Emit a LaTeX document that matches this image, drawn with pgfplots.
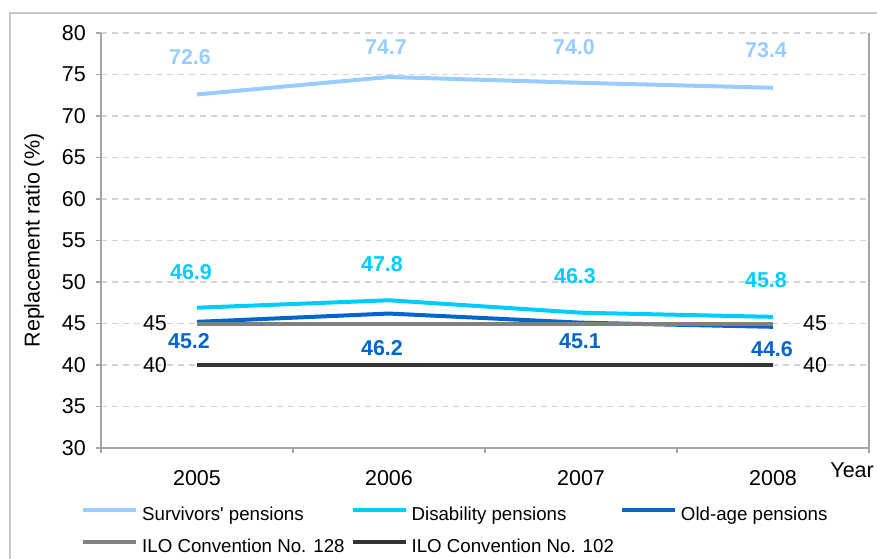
\documentclass[border=0pt]{standalone}
\usepackage{fontspec}
\setmainfont{Liberation Sans}
\usepackage{pgfplots}
\usepackage{pgfplotstable}
\pgfplotsset{compat=1.18}

\definecolor{surv}{RGB}{153,204,255}
\definecolor{disab}{RGB}{0,204,255}
\definecolor{oldage}{RGB}{0,102,204}
\definecolor{iloa}{RGB}{128,128,128}
\definecolor{ilob}{RGB}{51,51,51}
\definecolor{gridc}{RGB}{212,212,212}
\definecolor{axisc}{RGB}{165,165,165}
\definecolor{framec}{RGB}{200,200,200}

\newcommand{\mainfont}{\fontsize{21.5}{25}\selectfont}
\newcommand{\legfont}{\fontsize{18.7}{22}\selectfont}

% x y and label offsets (pt) from the point
\pgfplotstableread{
x y dx dy
0 72.6 -7 37
1 74.7 -3 30
2 74.0 -7 36
3 73.4 -7 38
}\survtab
\pgfplotstableread{
x y dx dy
0 46.9 -6 36
1 47.8 -7 36
2 46.3 -6 37
3 45.8 -7 37
}\disabtab
\pgfplotstableread{
x y dx dy
0 45.2 -8 -19
1 46.2 -7 -35
2 45.1 -1 -19
3 44.6 -1 -22
}\oldtab

\pgfplotsset{
  lbl/.style={
    point meta=y,
    visualization depends on={\thisrow{dx} \as \dx},
    visualization depends on={\thisrow{dy} \as \dy},
    nodes near coords={\pgfmathprintnumber[fixed,fixed zerofill,precision=1]{\pgfplotspointmeta}},
    every node near coord/.append style={font=\mainfont\bfseries, text=#1,
      anchor=center, inner sep=0pt, xshift=\dx pt, yshift=\dy pt},
  },
}

\begin{document}
\begin{tikzpicture}
\path[use as bounding box] (0,0) rectangle (877pt,558pt);
\draw[framec, line width=1.3pt] (10pt,-10pt) -- (10pt,545pt) -- (890pt,545pt);
\begin{axis}[
  at={(101pt,110pt)}, anchor=south west,
  scale only axis, width=768pt, height=415pt,
  xmin=-0.5, xmax=3.5, ymin=30, ymax=80,
  ytick={30,35,...,80},
  xtick={0,1,2,3}, xticklabels={2005,2006,2007,2008},
  minor xtick={-0.5,0.5,1.5,2.5,3.5},
  major x tick style={draw=none},
  axis x line*=bottom, axis y line*=left,
  axis line style={axisc, line width=1.3pt, -},
  every tick/.style={axisc, line width=1.3pt},
  tick align=outside, major tick length=5pt, minor tick length=5pt,
  ymajorgrids,
  grid style={gridc, line width=1.3pt, dash pattern=on 6pt off 5pt},
  /pgf/number format/assume math mode=true,
  tick label style={font=\mainfont, inner sep=0pt},
  yticklabel style={anchor=east, xshift=-10pt},
  xticklabel style={anchor=north, yshift=-17pt},
  ylabel={Replacement ratio (\%)},
  every axis y label/.style={at={(axis description cs:-0.0872,0.5)},
    rotate=90, anchor=center, font=\mainfont},
  clip=false,
  legend columns=3,
  legend cell align=left,
  legend style={at={(axis description cs:-0.0260,-0.142)}, anchor=north west,
    draw=none, fill=none, inner sep=0pt, font=\legfont,
    row sep=17pt,
    nodes={inner sep=0pt},
    /tikz/every odd column/.append style={column sep=4pt},
    /tikz/every even column/.append style={column sep=6pt}},
  legend image code/.code={\draw[#1] (0pt,5pt) -- (53pt,5pt);},
]
\addplot[surv, line width=4pt, line join=round, lbl=surv] table[x=x,y=y] {\survtab};
\addlegendentry{Survivors\textquotesingle{} pensions}
\addplot[disab, line width=4pt, line join=round, lbl=disab] table[x=x,y=y] {\disabtab};
\addlegendentry{Disability pensions}
\addplot[oldage, line width=4pt, line join=round, lbl=oldage] table[x=x,y=y] {\oldtab};
\addlegendentry{Old-age pensions}
\addplot[iloa, line width=4pt] coordinates {(0,45) (1,45) (2,45) (3,45)}
  node[pos=0, text=black, font=\mainfont, xshift=-42pt] {45}
  node[pos=1, text=black, font=\mainfont, xshift=42pt] {45};
\addlegendentry{ILO Convention No. 128}
\addplot[ilob, line width=4pt] coordinates {(0,40) (1,40) (2,40) (3,40)}
  node[pos=0, text=black, font=\mainfont, xshift=-42pt] {40}
  node[pos=1, text=black, font=\mainfont, xshift=42pt] {40};
\addlegendentry{ILO Convention No. 102}
\draw[axisc, line width=1.3pt] (rel axis cs:1,0) -- (rel axis cs:1,1);
\node[font=\mainfont, inner sep=0pt] at (axis description cs:0.978,-0.053) {Year};
\end{axis}
\end{tikzpicture}
\end{document}
